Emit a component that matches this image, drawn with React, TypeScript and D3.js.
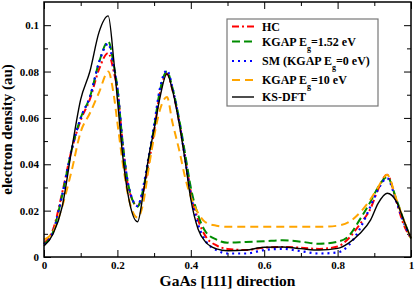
import React, { useEffect, useRef } from 'react';
import * as d3 from 'd3';

// positions along GaAs [111]
const xs = [0, 0.025, 0.05, 0.075, 0.1, 0.125, 0.15, 0.175, 0.19, 0.2, 0.215, 0.23, 0.255, 0.27, 0.285, 0.3, 0.315, 0.335, 0.35, 0.37, 0.385, 0.4, 0.42, 0.44, 0.47, 0.5, 0.55, 0.6, 0.65, 0.7, 0.75, 0.8, 0.83, 0.86, 0.89, 0.91, 0.935, 0.96, 0.98, 1.0];

const hc = [0.006, 0.012, 0.028, 0.046, 0.059, 0.068, 0.081, 0.088, 0.08, 0.072, 0.048, 0.03, 0.022, 0.028, 0.04, 0.054, 0.07, 0.079, 0.072, 0.057, 0.043, 0.028, 0.016, 0.009, 0.005, 0.0035, 0.003, 0.004, 0.0043, 0.004, 0.0035, 0.0045, 0.008, 0.014, 0.021, 0.029, 0.0355, 0.024, 0.014, 0.008];
const kgap152 = [0.0055, 0.011, 0.027, 0.046, 0.06, 0.069, 0.084, 0.093, 0.083, 0.073, 0.048, 0.031, 0.0217, 0.029, 0.042, 0.056, 0.071, 0.08, 0.073, 0.058, 0.044, 0.03, 0.018, 0.011, 0.0075, 0.0062, 0.0065, 0.0068, 0.0072, 0.0066, 0.0057, 0.0066, 0.009, 0.016, 0.024, 0.03, 0.0345, 0.025, 0.016, 0.008];
const sm = [0.0055, 0.011, 0.027, 0.046, 0.06, 0.069, 0.084, 0.092, 0.082, 0.073, 0.048, 0.031, 0.022, 0.03, 0.043, 0.057, 0.072, 0.0805, 0.073, 0.057, 0.042, 0.027, 0.014, 0.007, 0.003, 0.0015, 0.0015, 0.003, 0.0035, 0.0025, 0.0015, 0.002, 0.005, 0.012, 0.022, 0.029, 0.034, 0.024, 0.015, 0.008];
const kgap10 = [0.0075, 0.011, 0.022, 0.037, 0.054, 0.062, 0.071, 0.08, 0.07, 0.058, 0.04, 0.026, 0.017, 0.023, 0.038, 0.052, 0.063, 0.069, 0.058, 0.045, 0.034, 0.026, 0.019, 0.015, 0.0135, 0.013, 0.013, 0.013, 0.013, 0.013, 0.013, 0.0135, 0.015, 0.019, 0.025, 0.03, 0.0355, 0.025, 0.016, 0.008];
const ksdft = [0.0047, 0.01, 0.022, 0.046, 0.068, 0.08, 0.097, 0.104, 0.085, 0.068, 0.043, 0.026, 0.0152, 0.027, 0.043, 0.055, 0.068, 0.079, 0.072, 0.056, 0.041, 0.025, 0.012, 0.0065, 0.0035, 0.0027, 0.003, 0.0042, 0.0043, 0.0036, 0.003, 0.0037, 0.006, 0.01, 0.016, 0.023, 0.0275, 0.024, 0.016, 0.008];

const xTicks = [0, 0.2, 0.4, 0.6, 0.8, 1];
const xTickLabels = ['0', '0.2', '0.4', '0.6', '0.8', '1'];
const yTicks = [0, 0.02, 0.04, 0.06, 0.08, 0.1];
const yTickLabels = ['0', '0.02', '0.04', '0.06', '0.08', '0.1'];

const series = [
  { name: 'HC', values: hc, color: '#ff0000', dash: '7,3,2,3', width: 2 },
  { name: 'KGAP152', values: kgap152, color: '#008c00', dash: '8,4', width: 2 },
  { name: 'SM', values: sm, color: '#0000ff', dash: '2,4', width: 2.2 },
  { name: 'KGAP10', values: kgap10, color: '#ffa500', dash: '8,5', width: 2 },
  { name: 'KS', values: ksdft, color: '#000000', dash: null, width: 1.4 },
];

const FONT = 'Liberation Serif, DejaVu Serif, serif';

export default function App() {
  const ref = useRef<SVGSVGElement>(null);
  const width = 415;
  const height = 289;
  const margin = { top: 2, right: 4, bottom: 32, left: 44 };

  useEffect(() => {
    const svg = d3.select(ref.current);
    svg.selectAll('*').remove();
    svg.attr('font-family', FONT).attr('font-weight', 'bold');

    const x = d3.scaleLinear().domain([0, 1]).range([margin.left, width - margin.right]);
    const y = d3.scaleLinear().domain([0, 0.11]).range([height - margin.bottom, margin.top]);

    const minorX = d3.range(0.1, 1, 0.2);
    const minorY = d3.range(0.01, 0.11, 0.02);
    const addAxis = (axis: any, tr: string) => {
      const g = svg.append('g').attr('transform', tr).call(axis);
      g.select('.domain').remove();
      g.selectAll('line').attr('stroke', '#000').attr('stroke-width', 1);
      g.attr('font-family', FONT).attr('font-size', 11);
      return g;
    };
    const bottom = height - margin.bottom;
    const right = width - margin.right;

    // ticks on all four sides, pointing inward
    addAxis(d3.axisBottom(x).tickValues(minorX).tickSize(-4).tickFormat(() => ''), `translate(0,${bottom})`);
    addAxis(d3.axisTop(x).tickValues(minorX).tickSize(-4).tickFormat(() => ''), `translate(0,${margin.top})`);
    addAxis(d3.axisLeft(y).tickValues(minorY).tickSize(-4).tickFormat(() => ''), `translate(${margin.left},0)`);
    addAxis(d3.axisRight(y).tickValues(minorY).tickSize(-4).tickFormat(() => ''), `translate(${right},0)`);
    addAxis(d3.axisTop(x).tickValues(xTicks).tickSize(-7).tickFormat(() => ''), `translate(0,${margin.top})`);
    addAxis(d3.axisRight(y).tickValues(yTicks).tickSize(-7).tickFormat(() => ''), `translate(${right},0)`);

    const gx = addAxis(
      d3.axisBottom(x).tickValues(xTicks).tickSize(-7).tickFormat((d: any, i: number) => xTickLabels[i]),
      `translate(0,${bottom})`
    );
    gx.selectAll('text').attr('fill', '#000').attr('y', 4);

    const gy = addAxis(
      d3.axisLeft(y).tickValues(yTicks).tickSize(-7).tickFormat((d: any, i: number) => yTickLabels[i]),
      `translate(${margin.left},0)`
    );
    gy.selectAll('text').attr('fill', '#000').attr('x', -5);

    // curves
    const line = d3.line<number>()
      .x((d, i) => x(xs[i]))
      .y(d => y(d))
      .curve(d3.curveMonotoneX);

    series.forEach(s => {
      svg.append('path')
        .attr('d', line(s.values))
        .attr('fill', 'none')
        .attr('stroke', s.color)
        .attr('stroke-width', s.width)
        .attr('stroke-dasharray', s.dash);
    });

    // frame
    svg.append('rect')
      .attr('x', margin.left).attr('y', margin.top)
      .attr('width', right - margin.left).attr('height', bottom - margin.top)
      .attr('fill', 'none').attr('stroke', '#000').attr('stroke-width', 1.5);

    // legend
    const lg = svg.append('g');
    lg.append('rect')
      .attr('x', 227).attr('y', 19).attr('width', 151).attr('height', 87)
      .attr('fill', '#fff').attr('stroke', '#777').attr('stroke-width', 1.2);
    const rows = [
      { s: series[0], ly: 26.5, parts: [['HC', false]] },
      { s: series[1], ly: 41.5, parts: [['KGAP E', false], ['g', true], ['=1.52 eV', false]] },
      { s: series[2], ly: 61, parts: [['SM (KGAP E', false], ['g', true], ['=0 eV)', false]] },
      { s: series[3], ly: 80, parts: [['KGAP E', false], ['g', true], ['=10 eV', false]] },
      { s: series[4], ly: 97, parts: [['KS-DFT', false]] },
    ];
    rows.forEach(r => {
      lg.append('line')
        .attr('x1', 232).attr('x2', 254).attr('y1', r.ly).attr('y2', r.ly)
        .attr('stroke', r.s.color).attr('stroke-width', r.s.width)
        .attr('stroke-dasharray', r.s.dash);
      const t = lg.append('text')
        .attr('x', 262).attr('y', r.ly + 4)
        .attr('font-size', 12)
        .attr('fill', '#000');
      r.parts.forEach(([txt, sub], k) => {
        const ts = t.append('tspan').text(txt as string);
        if (sub) ts.attr('font-size', 8).attr('dy', 5);
        else if (k > 0) ts.attr('dy', -5);
      });
    });

    // axis titles
    svg.append('text')
      .attr('x', (margin.left + right) / 2).attr('y', 286)
      .attr('text-anchor', 'middle')
      .attr('font-size', 15.5)
      .text('GaAs [111] direction');
    svg.append('text')
      .attr('transform', `translate(12,${(margin.top + bottom) / 2}) rotate(-90)`)
      .attr('text-anchor', 'middle')
      .attr('font-size', 15)
      .text('electron density (au)');
  }, []);

  return (
    <svg
      ref={ref}
      width={width}
      height={height}
      style={{ position: 'absolute', left: 0, top: 0, background: '#fff' }}
    />
  );
}
